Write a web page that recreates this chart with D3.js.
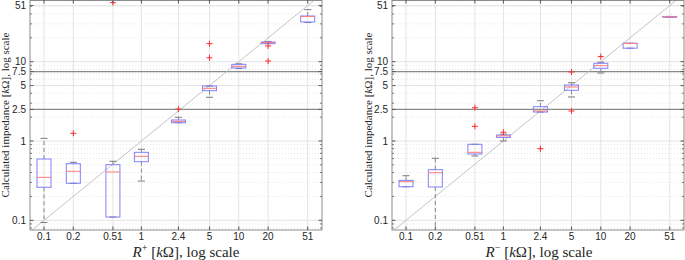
<!DOCTYPE html>
<html><head><meta charset="utf-8">
<script src="https://cdn.jsdelivr.net/npm/d3@7"></script>
<style>body{margin:0;background:#fff}svg{display:block}</style>
</head><body>
<script>
// ---- data ----
const categories = [0.1, 0.2, 0.51, 1, 2.4, 5, 10, 20, 51];
const xTickLabels = ["0.1", "0.2", "0.51", "1", "2.4", "5", "10", "20", "51"];
const yTicks = [0.1, 1, 2.5, 5, 7.5, 10, 51];
const yTickLabels = ["0.1", "1", "2.5", "5", "7.5", "10", "51"];
const refLines = [2.5, 7.5];
// box stats per category: [lower whisker, q1, median, q3, upper whisker]
const plusBoxes = [
  [0.094, 0.261, 0.348, 0.593, 1.08],
  [0.293, 0.293, 0.415, 0.517, 0.539],
  [0.110, 0.110, 0.407, 0.503, 0.555],
  [0.313, 0.548, 0.641, 0.72, 0.786],
  [1.70, 1.70, 1.77, 1.84, 1.99],
  [3.56, 4.31, 4.62, 4.94, 4.94],
  [8.2, 8.33, 8.75, 9.27, 9.4],
  [16.9, 16.9, 17.4, 17.7, 18.0],
  [31.2, 31.7, 37.2, 37.7, 45.3]
];
const plusOutliers = [[], [1.25], [55.5], [], [2.53], [16.9, 11.2], [], [15.8, 10.2], []];
const minusBoxes = [
  [0.265, 0.265, 0.307, 0.319, 0.365],
  [0.05, 0.263, 0.398, 0.435, 0.605],
  [0.647, 0.686, 0.72, 0.909, 0.909],
  [1.0, 1.11, 1.16, 1.19, 1.22],
  [2.32, 2.32, 2.39, 2.71, 3.22],
  [3.59, 4.36, 4.8, 5.08, 5.43],
  [7.2, 8.26, 8.9, 9.55, 9.84],
  [14.8, 14.8, 17.0, 17.1, 17.1],
  [36.4, 36.4, 36.9, 37.2, 37.2]
];
const minusOutliers = [[], [], [1.53, 2.63], [1.29], [0.80], [2.39, 7.41], [11.6], [], []];

// ---- layout ----
const W = 685, H = 260;
const plotTop = 0, plotBottom = 230;
const svg = d3.select("body").append("svg").attr("width", W).attr("height", H)
  .attr("font-family", "'Liberation Sans', Arial, sans-serif");

const panels = [
  {x0: 30, x1: 322, boxes: plusBoxes, outliers: plusOutliers, sign: "+", xlabCenter: 186, ylabX: 9},
  {x0: 392, x1: 684, boxes: minusBoxes, outliers: minusOutliers, sign: "\u2212", xlabCenter: 539, ylabX: 372}
];

const y = d3.scaleLog()
  .domain([Math.pow(10, -89 / 79.3), Math.pow(10, 141 / 79.3)])
  .range([plotBottom, plotTop]);

const minorY = [];
for (let e = -2; e <= 1; e++) for (let m = 2; m <= 9; m++) {
  const v = m * Math.pow(10, e);
  if (v >= y.domain()[0] && v <= y.domain()[1]) minorY.push(v);
}

panels.forEach((p, pi) => {
  const x = d3.scaleLog()
    .domain([Math.pow(10, -1 - 14 / 97.4), Math.pow(10, -1 + 278 / 97.4)])
    .range([p.x0, p.x1]);
  const g = svg.append("g");
  const clipId = "clip" + pi;
  svg.append("clipPath").attr("id", clipId).append("rect")
    .attr("x", p.x0).attr("y", plotTop).attr("width", p.x1 - p.x0).attr("height", plotBottom - plotTop);

  // minor grid
  g.selectAll(".mg").data(minorY).join("line")
    .attr("x1", p.x0).attr("x2", p.x1).attr("y1", d => y(d)).attr("y2", d => y(d))
    .attr("stroke", "#e0e0e0").attr("stroke-width", 0.8).attr("stroke-dasharray", "1,2");
  // major grid
  g.selectAll(".gy").data(yTicks).join("line")
    .attr("x1", p.x0).attr("x2", p.x1).attr("y1", d => y(d)).attr("y2", d => y(d))
    .attr("stroke", "#e4e4e4").attr("stroke-width", 1);
  g.selectAll(".gx").data(categories).join("line")
    .attr("x1", d => x(d)).attr("x2", d => x(d)).attr("y1", plotTop).attr("y2", plotBottom)
    .attr("stroke", "#e4e4e4").attr("stroke-width", 1);

  // reference horizontal lines
  g.selectAll(".ref").data(refLines).join("line")
    .attr("x1", p.x0).attr("x2", p.x1).attr("y1", d => y(d)).attr("y2", d => y(d))
    .attr("stroke", "#8a8a8a").attr("stroke-width", 1.2);

  // diagonal y = x
  const lo = x.domain()[0], hi = x.domain()[1];
  g.append("line").attr("clip-path", `url(#${clipId})`)
    .attr("x1", x(lo)).attr("y1", y(lo)).attr("x2", x(hi)).attr("y2", y(hi))
    .attr("stroke", "#bdbdbd").attr("stroke-width", 0.9);

  // boxes
  const bw = 7, cw = 3.5;
  const bg = g.append("g").attr("clip-path", `url(#${clipId})`);
  p.boxes.forEach((b, i) => {
    const cx = x(categories[i]);
    const [wl, q1, md, q3, wh] = b;
    bg.append("line").attr("x1", cx).attr("x2", cx).attr("y1", y(q3)).attr("y2", y(wh))
      .attr("stroke", "#8a8a8a").attr("stroke-dasharray", "4,3");
    bg.append("line").attr("x1", cx).attr("x2", cx).attr("y1", y(q1)).attr("y2", y(wl))
      .attr("stroke", "#8a8a8a").attr("stroke-dasharray", "4,3");
    [wl, wh].forEach(v => bg.append("line")
      .attr("x1", cx - cw).attr("x2", cx + cw).attr("y1", y(v)).attr("y2", y(v))
      .attr("stroke", "#7a7a7a").attr("stroke-width", 1));
    bg.append("rect").attr("x", cx - bw).attr("width", 2 * bw)
      .attr("y", y(q3)).attr("height", Math.max(0.5, y(q1) - y(q3)))
      .attr("fill", "none").attr("stroke", "#8080ff").attr("stroke-width", 1);
    bg.append("line").attr("x1", cx - bw).attr("x2", cx + bw).attr("y1", y(md)).attr("y2", y(md))
      .attr("stroke", "#ff7a7a").attr("stroke-width", 1);
    p.outliers[i].forEach(v => {
      const yy = y(v);
      bg.append("path").attr("d", `M${cx - 3},${yy}H${cx + 3}M${cx},${yy - 3}V${yy + 3}`)
        .attr("stroke", "#ff2a2a").attr("stroke-width", 1).attr("fill", "none");
    });
  });

  // frame
  g.append("rect").attr("x", p.x0).attr("y", plotTop + 0.5).attr("width", p.x1 - p.x0).attr("height", plotBottom - plotTop - 0.5)
    .attr("fill", "none").attr("stroke", "#8c8c8c").attr("stroke-width", 1);

  // ticks (inward, all sides)
  const tk = 3.5;
  categories.forEach(c => {
    g.append("line").attr("x1", x(c)).attr("x2", x(c)).attr("y1", plotBottom).attr("y2", plotBottom - tk).attr("stroke", "#555");
    g.append("line").attr("x1", x(c)).attr("x2", x(c)).attr("y1", plotTop).attr("y2", plotTop + tk).attr("stroke", "#555");
  });
  yTicks.forEach(v => {
    g.append("line").attr("x1", p.x0).attr("x2", p.x0 + tk).attr("y1", y(v)).attr("y2", y(v)).attr("stroke", "#555");
    g.append("line").attr("x1", p.x1).attr("x2", p.x1 - tk).attr("y1", y(v)).attr("y2", y(v)).attr("stroke", "#555");
  });
  minorY.forEach(v => {
    g.append("line").attr("x1", p.x0).attr("x2", p.x0 + 2).attr("y1", y(v)).attr("y2", y(v)).attr("stroke", "#777");
    g.append("line").attr("x1", p.x1).attr("x2", p.x1 - 2).attr("y1", y(v)).attr("y2", y(v)).attr("stroke", "#777");
  });

  // tick labels
  g.selectAll(".xl").data(categories).join("text")
    .attr("x", d => x(d)).attr("y", 240).attr("text-anchor", "middle")
    .attr("font-size", 10).attr("fill", "#262626").text((d, i) => xTickLabels[i]);
  g.selectAll(".yl").data(yTicks).join("text")
    .attr("x", p.x0 - 4).attr("y", d => y(d) + 3.5).attr("text-anchor", "end")
    .attr("font-size", 10).attr("fill", "#262626").text((d, i) => yTickLabels[i]);

  // axis labels
  const ser = "'Liberation Serif', 'DejaVu Serif', serif";
  const xl = g.append("text").attr("x", p.xlabCenter).attr("y", 256.5).attr("text-anchor", "middle")
    .attr("font-family", ser).attr("font-size", 15).attr("fill", "#262626");
  xl.append("tspan").attr("font-style", "italic").text("R");
  xl.append("tspan").attr("font-size", 10).attr("dy", -6).text(p.sign);
  xl.append("tspan").attr("dy", 6).text(" [");
  xl.append("tspan").attr("font-style", "italic").text("k");
  xl.append("tspan").text("\u03A9], log scale");

  const yl = g.append("text").attr("transform", `translate(${p.ylabX},115) rotate(-90)`)
    .attr("text-anchor", "middle").attr("font-family", ser).attr("font-size", 11).attr("fill", "#262626");
  yl.append("tspan").text("Calculated impedance [");
  yl.append("tspan").attr("font-style", "italic").text("k");
  yl.append("tspan").text("\u03A9], log scale");
});
</script>
</body></html>
